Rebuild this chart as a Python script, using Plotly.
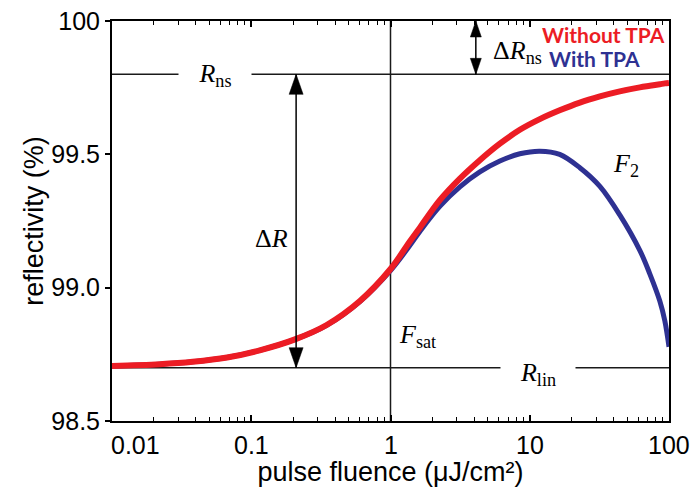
import numpy as np
import plotly.graph_objects as go

# Pulse fluence grid (uJ/cm^2) and the two reflectivity curves (%)
fluence = [0.01, 0.022, 0.038, 0.067, 0.115, 0.206, 0.348, 0.603, 1.0, 1.38,
           1.63, 2.26, 3.15, 4.38, 6.1, 8.49, 11.8, 16.4, 22.9, 31.9,
           44.3, 61.7, 72.8, 85.9, 93.3, 100.0]
refl_without_tpa = [98.706, 98.713, 98.722, 98.738, 98.765, 98.806, 98.860, 98.950, 99.070, 99.174,
                    99.226, 99.328, 99.409, 99.478, 99.540, 99.592, 99.632, 99.665, 99.694, 99.717,
                    99.736, 99.751, 99.757, 99.763, 99.766, 99.768]
refl_with_tpa = [98.706, 98.713, 98.722, 98.738, 98.765, 98.806, 98.859, 98.948, 99.064, 99.159,
                 99.212, 99.305, 99.378, 99.434, 99.475, 99.502, 99.512, 99.500, 99.450, 99.380,
                 99.273, 99.140, 99.052, 98.950, 98.876, 98.778]

# Characteristic levels and fluences
R_NS = 99.8
R_LIN = 98.7
F_SAT = 1.0
F_DELTA_R = 0.21      # position of the modulation-depth arrow
F_DELTA_RNS = 4.1     # position of the non-saturable-loss arrow

x_tick_vals = [0.01, 0.1, 1, 10, 100]
x_tick_text = ["0.01", "0.1", "1", "10", "100"]
y_tick_vals = [98.5, 99.0, 99.5, 100.0]
y_tick_text = ["98.5", "99.0", "99.5", "100"]
x_range = [0.01, 100]
y_range = [98.5, 100.0]

RED = "#EC1C24"
BLUE = "#2E3192"
SANS = "Liberation Sans, Arial, sans-serif"
SERIF = "Liberation Serif, Times New Roman, serif"
BOLD_SANS = "Lato, Open Sans, sans-serif"

fig = go.Figure()
fig.add_trace(go.Scatter(x=fluence, y=refl_with_tpa, mode="lines", name="With TPA",
                         line=dict(color=BLUE, width=5, shape="spline"), hoverinfo="skip"))
fig.add_trace(go.Scatter(x=fluence, y=refl_without_tpa, mode="lines", name="Without TPA",
                         line=dict(color=RED, width=6, shape="spline"), hoverinfo="skip"))

shapes = []
thin = dict(color="#1a1a1a", width=1.5)
# horizontal reference levels and the saturation fluence
shapes.append(dict(type="line", xref="paper", x0=0, x1=1, yref="y", y0=R_NS, y1=R_NS, line=thin, layer="below"))
shapes.append(dict(type="line", xref="paper", x0=0, x1=1, yref="y", y0=R_LIN, y1=R_LIN, line=thin, layer="below"))
shapes.append(dict(type="line", xref="x", x0=F_SAT, x1=F_SAT, yref="paper", y0=0, y1=1, line=thin, layer="below"))


def double_arrow(f, r_low, r_high, head_len, head_half):
    out = [dict(type="line", xref="x", x0=f, x1=f, yref="y", y0=r_low, y1=r_high,
                line=dict(color="black", width=1.5))]
    # filled heads drawn in pixel units, anchored at the arrow ends
    up = f"M0,0 L{-head_half},{-head_len} L{head_half},{-head_len} Z"
    down = f"M0,0 L{-head_half},{head_len} L{head_half},{head_len} Z"
    for anchor, path in ((r_high, up), (r_low, down)):
        out.append(dict(type="path", xref="x", yref="y", xsizemode="pixel", ysizemode="pixel",
                        xanchor=f, yanchor=anchor, path=path,
                        fillcolor="black", line=dict(color="black", width=0.5)))
    return out


shapes += double_arrow(F_DELTA_R, R_LIN, R_NS, 20, 7)
shapes += double_arrow(F_DELTA_RNS, R_NS, y_range[1], 16, 5.5)

annotations = []
serif_font = dict(family=SERIF, size=26, color="black")


def label(text, x, y, xanchor="center", **kw):
    annotations.append(dict(text=text, xref="paper", yref="paper", x=x, y=y, xanchor=xanchor,
                            yanchor="middle", showarrow=False, font=kw.pop("font", serif_font), **kw))


label("<i>R</i><sub>ns</sub>", 0.185, 0.865, bgcolor="white", width=70, height=28)
label("<i>R</i><sub>lin</sub>", 0.765, 0.118, bgcolor="white", width=72, height=28)
label("Δ<i>R</i>", 0.287, 0.455)
label("Δ<i>R</i><sub>ns</sub>", 0.680, 0.922, xanchor="left")
label("<i>F</i><sub>sat</sub>", 0.511, 0.212, xanchor="left")
label("<i>F</i><sub>2</sub>", 0.895, 0.640, xanchor="left")
label("<b>Without TPA</b>", 0.996, 0.967, xanchor="right",
      font=dict(family=BOLD_SANS, size=21, color=RED))
label("<b>With TPA</b>", 0.781, 0.906, xanchor="left",
      font=dict(family=BOLD_SANS, size=21, color=BLUE))

# x tick labels: the first one is kept inside the figure edge
for i, (v, t) in enumerate(zip(x_tick_vals, x_tick_text)):
    annotations.append(dict(text=t, xref="x", yref="paper", x=np.log10(v), y=0,
                            xanchor="left" if i == 0 else "center", xshift=-3 if i == 0 else 0,
                            yanchor="top", yshift=-8, showarrow=False,
                            font=dict(family=SANS, size=25, color="black")))

fig.update_layout(
    width=694, height=488,
    margin=dict(l=112, r=25, t=21, b=67, autoexpand=False),
    paper_bgcolor="white", plot_bgcolor="white",
    showlegend=False,
    shapes=shapes, annotations=annotations,
    xaxis=dict(type="log", range=[np.log10(x_range[0]), np.log10(x_range[1])], automargin=False,
               tickmode="array", tickvals=x_tick_vals, showticklabels=False,
               ticks="inside", ticklen=6, tickwidth=1.5, tickcolor="black",
               minor=dict(dtick="D1", ticks="inside", ticklen=4, tickwidth=1.2, tickcolor="black", showgrid=False),
               showline=True, linewidth=2, linecolor="black", mirror="ticks",
               showgrid=False, zeroline=False,
               title=dict(text="pulse fluence (μJ/cm²)", standoff=40,
                          font=dict(family=SANS, size=27, color="black"))),
    yaxis=dict(range=y_range, tickmode="array", tickvals=y_tick_vals, ticktext=y_tick_text, automargin=False,
               ticks="outside", ticklen=5, tickwidth=1.5, tickcolor="black",
               tickfont=dict(family=SANS, size=25, color="black"),
               showline=True, linewidth=2, linecolor="black", mirror=True,
               showgrid=False, zeroline=False,
               title=dict(text="reflectivity (%)", standoff=0,
                          font=dict(family=SANS, size=27, color="black"))),
    yaxis2=dict(range=y_range, overlaying="y", side="right", tickmode="array", tickvals=y_tick_vals,
                automargin=False, ticks="inside", ticklen=5, tickwidth=1.5, tickcolor="black",
                showticklabels=False, showline=False, showgrid=False, zeroline=False),
)

fig.write_html("out.html")
